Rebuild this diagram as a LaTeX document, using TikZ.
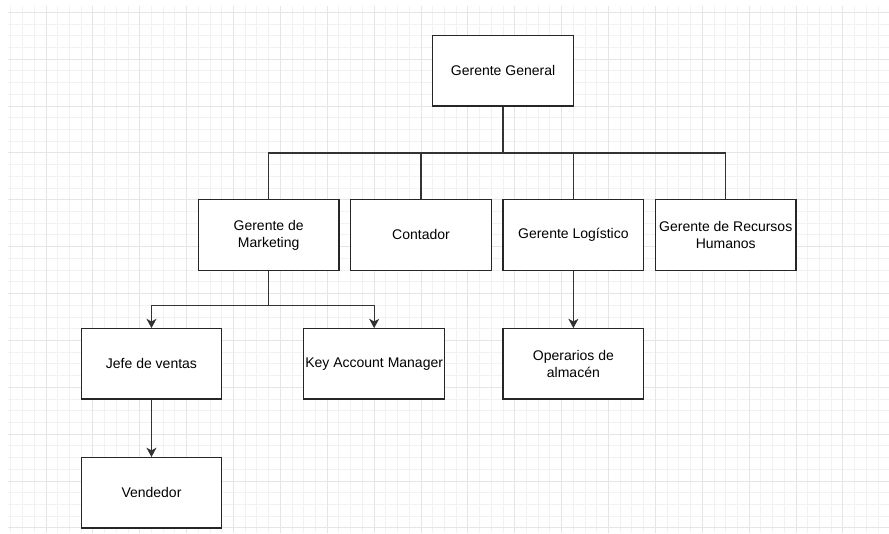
\documentclass[tikz,border=0pt]{standalone}
\usepackage{fontspec}
\setmainfont{Liberation Sans}
\usetikzlibrary{arrows.meta}
\tikzset{
  box/.style={draw=black!85, line width=0.9pt, fill=white, minimum width=12*8.79pt, minimum height=6*8.79pt, inner sep=0pt, align=center, font=\fontsize{10.5pt}{12.7pt}\selectfont},
  link/.style={draw=black!80, line width=0.9pt},
  arr/.style={link, -{Stealth[length=7pt,width=7.5pt,inset=2pt]}},
  minorgrid/.style={draw=black!5, line width=0.75pt},
  majorgrid/.style={draw=black!10, line width=0.75pt}
}
\begin{document}
\begin{tikzpicture}[x=8.79pt, y=-8.79pt]
\useasboundingbox[fill=white] (-3.925,-1.0495) rectangle (71.93,44.43);
% grid
\foreach \i in {-3,...,71} {\draw[minorgrid] (\i,-0.54) -- (\i,44.43);}
\foreach \j in {0,...,44} {\draw[minorgrid] (-3.24,\j) -- (71.93,\j);}
\foreach \i in {0,4,...,68} {\draw[majorgrid] (\i,-0.54) -- (\i,44.43);}
\foreach \j in {0,4,...,44} {\draw[majorgrid] (-3.24,\j) -- (71.93,\j);}
% nodes
\node[box] (gg) at (39,5) {Gerente General};
\node[box] (mk) at (19,19) {Gerente de\\Marketing};
\node[box] (ct) at (32,19) {Contador};
\node[box] (lg) at (45,19) {Gerente Logístico};
\node[box] (rh) at (58,19) {Gerente de Recursos\\Humanos};
\node[box] (jv) at (9,30) {Jefe de ventas};
\node[box] (ka) at (28,30) {Key Account Manager};
\node[box] (op) at (45,30) {Operarios de\\almacén};
\node[box] (vd) at (9,41) {Vendedor};
% connectors
\coordinate (bus) at (0,12);
\coordinate (mbus) at (0,25);
\draw[link] (gg.south) -- (gg.south |- bus) -| (mk.north);
\draw[link] (gg.south |- bus) -| (ct.north);
\draw[link] (gg.south |- bus) -| (lg.north);
\draw[link] (gg.south |- bus) -| (rh.north);
\draw[arr] (mk.south) -- (mk.south |- mbus) -| (jv.north);
\draw[arr] (mk.south |- mbus) -| (ka.north);
\draw[arr] (jv.south) -- (vd.north);
\draw[arr] (lg.south) -- (op.north);
\end{tikzpicture}
\end{document}
